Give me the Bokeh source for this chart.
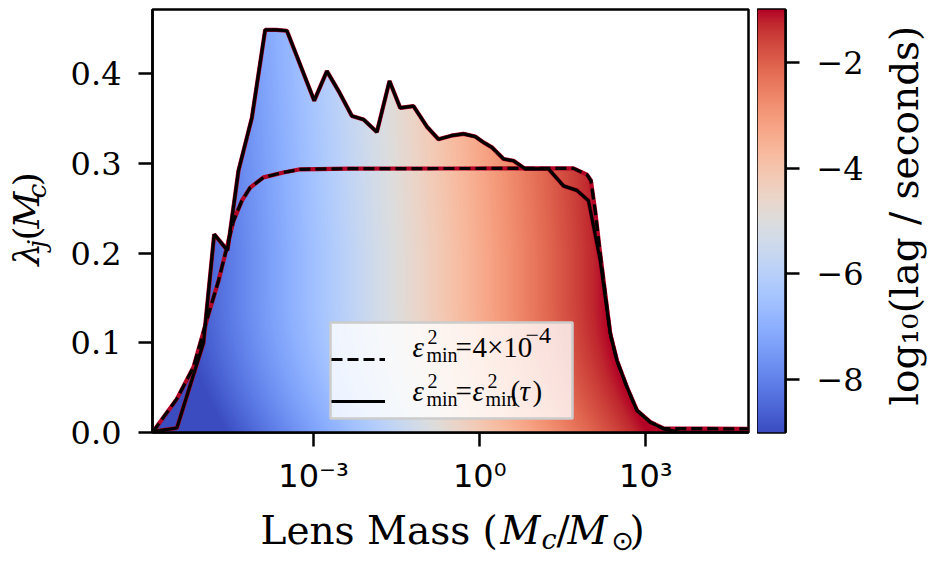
import numpy as np
from bokeh.plotting import figure
from bokeh.models import (Range1d, FixedTicker, LinearColorMapper, Label, Legend, LegendItem,
                          NumeralTickFormatter, CustomJSTickFormatter, BoxAnnotation)
from bokeh.layouts import row, column
from bokeh.core.properties import value
from bokeh.embed import file_html
from bokeh.resources import INLINE

# ---------------- data ----------------
# solid curve: eps^2_min = eps^2_min(tau); x = log10(M_c / M_sun)
mass_solid_log = [-5.906, -5.466, -4.986, -4.792, -4.552, -4.354, -4.112, -3.872, -3.673, -3.480,
                  -2.987, -2.758, -2.549, -2.307, -2.097, -1.856, -1.628, -1.435, -1.195, -0.953,
                  -0.744, -0.514, -0.292, -0.081, 0.069, 0.220, 0.430, 0.610, 0.821, 1.242,
                  1.513, 1.755, 1.964, 2.175, 2.356, 2.477, 2.657, 2.838, 3.078, 3.318,
                  3.600, 4.852]
lam_solid = [0.001, 0.005, 0.100, 0.221, 0.203, 0.292, 0.351, 0.449, 0.449, 0.448,
             0.370, 0.403, 0.381, 0.353, 0.349, 0.335, 0.392, 0.362, 0.364, 0.341,
             0.327, 0.331, 0.333, 0.330, 0.3235, 0.318, 0.305, 0.303, 0.294, 0.294,
             0.275, 0.270, 0.2585, 0.192, 0.110, 0.080, 0.0505, 0.0245, 0.0115, 0.004,
             0.0005, 0.0]
# dashed curve: eps^2_min = 4e-4
mass_dashed_log = [-5.906, -5.466, -5.166, -4.895, -4.715, -4.594, -4.444, -4.292, -4.143, -3.903,
                   -3.542, -3.240, -2.338, -0.532, 1.693, 1.935, 2.007, 2.085, 2.162, 2.356,
                   2.477, 2.657, 2.838, 3.078, 3.318, 4.852]
lam_dashed = [0.000, 0.0375, 0.073, 0.132, 0.169, 0.199, 0.236, 0.2585, 0.273, 0.2845,
              0.290, 0.2935, 0.2942, 0.2944, 0.2945, 0.2875, 0.281, 0.247, 0.206, 0.110,
              0.080, 0.0505, 0.0245, 0.0115, 0.0045, 0.004]

x_ticks = [1e-3, 1.0, 1e3]
x_tick_labels = ["10\u207b\u00b3", "10\u2070", "10\u00b3"]
y_ticks = [0.0, 0.1, 0.2, 0.3, 0.4]
cb_ticks = [-8, -6, -4, -2]
cb_tick_labels = ["\u22128", "\u22126", "\u22124", "\u22122"]
lag_low, lag_high = -9.0, -1.0
x_lim_log = (-5.906, 4.852)
y_lim = (0.0, 0.4717)

# ---------------- coolwarm palette ----------------
_cw = np.array([
    (0.2298057, 0.298717966, 0.753683153), (0.26623388, 0.353094838, 0.801466763),
    (0.30386891, 0.406535296, 0.84495867), (0.342804478, 0.458757618, 0.883725899),
    (0.38301334, 0.50941904, 0.917387822), (0.424369608, 0.558148092, 0.945619588),
    (0.46666708, 0.604562568, 0.968154911), (0.509635204, 0.648280772, 0.98478814),
    (0.552953156, 0.688929332, 0.995375608), (0.596262162, 0.726149107, 0.999836203),
    (0.639176211, 0.759599947, 0.998151185), (0.681291281, 0.788964712, 0.990363227),
    (0.722193294, 0.813952739, 0.976574709), (0.761464949, 0.834302879, 0.956945269),
    (0.798691636, 0.849786142, 0.931688648), (0.833466556, 0.860207984, 0.901068838),
    (0.865395197, 0.86541021, 0.865395561), (0.897787179, 0.848937047, 0.820880546),
    (0.924127593, 0.827384882, 0.774508472), (0.944468518, 0.800927443, 0.726736146),
    (0.958852946, 0.769767752, 0.678007945), (0.96732803, 0.734132809, 0.628751763),
    (0.969954137, 0.694266682, 0.579375448), (0.966811177, 0.650421156, 0.530263762),
    (0.958003065, 0.602842431, 0.481775914), (0.943660866, 0.551750968, 0.434243684),
    (0.923944917, 0.49730856, 0.387970225), (0.89904617, 0.439559467, 0.343229596),
    (0.869186849, 0.378313092, 0.300267182), (0.834620542, 0.312874446, 0.259301199),
    (0.795631745, 0.24128379, 0.220525627), (0.752534934, 0.157246067, 0.184115123),
    (0.705673158, 0.01555616, 0.150232812)])
_s = np.linspace(0, 1, len(_cw))
palette = []
for t in np.linspace(0, 1, 256):
    r, g, b = (np.interp(t, _s, _cw[:, k]) for k in range(3))
    palette.append("#%02x%02x%02x" % (int(round(r * 255)), int(round(g * 255)), int(round(b * 255))))

mapper = LinearColorMapper(palette=palette, low=lag_low, high=lag_high, nan_color=(0, 0, 0, 0))

SERIF = "DejaVu Serif"
SANS = "DejaVu Sans"
LEG = "Liberation Serif"
BASE_SHIFT = 0.33   # anchor offset (in em) so that the alphabetic baseline lands where wanted

TOP, FH, BOT = 9, 423, 68          # main row: top border, frame height, bottom border
ROW_H = TOP + FH + BOT             # 500
FW = 596
FX0, FY0 = 152.0, float(TOP + FH)  # main frame bottom-left on the page


class Strip:
    """A bare figure covering page x [x0, x0+w], y [y0, y0+h]; texts placed in page pixels."""

    def __init__(self, x0, y0, w, h):
        self.x0, self.y0, self.w, self.h = x0, y0, w, h
        f = figure(width=w, height=h, x_range=Range1d(0, w), y_range=Range1d(0, h),
                   x_axis_location=None, y_axis_location=None, output_backend="svg",
                   toolbar_location=None, min_border=0)
        f.min_border_left = f.min_border_right = f.min_border_top = f.min_border_bottom = 0
        f.grid.visible = False
        f.outline_line_color = None
        f.background_fill_color = "white"
        f.border_fill_color = "white"
        self.fig = f

    def text(self, s, px, py, size, style="normal", font=SERIF, rotated=False, along=0.0):
        x = px - self.x0
        y = (self.y0 + self.h) - py
        if rotated:
            x -= BASE_SHIFT * size
            y -= along          # rotated run is drawn shifted along its direction
        else:
            y += BASE_SHIFT * size
        self.fig.text(x=[x], y=[y], text=[s], text_font=value(font),
                      text_font_size=value("%dpx" % size), text_font_style=value(style),
                      text_color="black", angle=(np.pi / 2 if rotated else 0.0),
                      text_align=value("left"), text_baseline=value("alphabetic"))


def lab(s, px, py, size, style="normal", font=LEG):
    py = py - BASE_SHIFT * size
    p.add_layout(Label(x=px - FX0, y=FY0 - py, x_units="screen", y_units="screen", text=s,
                       text_font=font, text_font_size="%dpx" % size, text_font_style=style,
                       text_color="black", text_align="left", text_baseline="alphabetic",
                       level="overlay"))


# ---------------- main figure ----------------
p = figure(width=92 + FW + 9, height=ROW_H, frame_width=FW, frame_height=FH,
           x_axis_type="log",
           x_range=Range1d(10 ** x_lim_log[0], 10 ** x_lim_log[1]),
           y_range=Range1d(*y_lim),
           output_backend="svg", toolbar_location=None)
p.min_border_left = 92
p.min_border_right = 9
p.min_border_top = TOP
p.min_border_bottom = BOT
p.grid.visible = False
p.background_fill_color = "white"
p.border_fill_color = "white"
p.outline_line_color = "black"
p.outline_line_width = 2.5

# gradient fill under the upper envelope of both curves (colour = log10 lag)
nx, ny = FW, FH
lx = x_lim_log[0] + (np.arange(nx) + 0.5) * (x_lim_log[1] - x_lim_log[0]) / nx
ly = y_lim[0] + (np.arange(ny) + 0.5) * (y_lim[1] - y_lim[0]) / ny
env = np.maximum(np.interp(lx, mass_solid_log, lam_solid), np.interp(lx, mass_dashed_log, lam_dashed))
LX, LY = np.meshgrid(lx, ly)
lag = -3.4 + 1.05 * LX - 0.8 * np.clip(1 - LY / 0.15, 0, 1) ** 2 + 1.0 * np.clip(LY - 0.2, 0, None)
lag[LY > env[None, :]] = np.nan
p.image(image=[lag.astype(np.float32)], x=10 ** x_lim_log[0], y=y_lim[0],
        dw=10 ** x_lim_log[1] - 10 ** x_lim_log[0], dh=y_lim[1] - y_lim[0], color_mapper=mapper)

xs_solid = [10 ** v for v in mass_solid_log]
xs_dashed = [10 ** v for v in mass_dashed_log]
p.line(xs_dashed, lam_dashed, line_color="#b40426", line_width=4.2)
p.line(xs_solid, lam_solid, line_color="#b40426", line_width=4.2)
r_d = p.line(xs_dashed, lam_dashed, line_color="black", line_width=3.2, line_dash="11 5")
r_s = p.line(xs_solid, lam_solid, line_color="black", line_width=3.2)

p.xaxis.ticker = FixedTicker(ticks=x_ticks, minor_ticks=[])
p.xaxis.formatter = CustomJSTickFormatter(args=dict(t=x_ticks, l=x_tick_labels), code="""
const i = t.findIndex(v => Math.abs(Math.log10(v) - Math.log10(tick)) < 1e-6);
return i >= 0 ? l[i] : "";
""")
p.yaxis.ticker = FixedTicker(ticks=y_ticks, minor_ticks=[])
p.yaxis.formatter = NumeralTickFormatter(format="0.0")
for ax in (p.xaxis, p.yaxis):
    ax.axis_line_width = 2.5
    ax.axis_line_color = "black"
    ax.major_tick_out = 14
    ax.major_tick_in = 0
    ax.major_tick_line_width = 2.5
    ax.minor_tick_out = 0
    ax.minor_tick_in = 0
    ax.major_label_text_color = "black"
p.xaxis.major_label_text_font = SANS
p.xaxis.major_label_text_font_size = "32px"
p.xaxis.major_label_standoff = 10
p.yaxis.major_label_text_font = SERIF
p.yaxis.major_label_text_font_size = "32px"
p.yaxis.major_label_standoff = 17

# legend: box, sample lines, texts
p.add_layout(BoxAnnotation(left=178, right=420, bottom=14, top=110,
                           left_units="screen", right_units="screen",
                           bottom_units="screen", top_units="screen",
                           fill_color="white", fill_alpha=0.8,
                           line_color="#cccccc", line_width=2.5, line_alpha=1.0))
legend = Legend(items=[LegendItem(label=" ", renderers=[r_d]),
                       LegendItem(label=" ", renderers=[r_s])],
                location=(179, 14), margin=0, padding=8, spacing=8,
                glyph_width=54, glyph_height=34, label_height=34, label_width=156,
                label_standoff=10, label_text_font_size="8px",
                border_line_color=None, background_fill_alpha=0.0)
p.add_layout(legend)

for base, sup, sub in ((356, 343, 361), (400, 387, 405)):
    lab("\u03b5", 412, base, 29, "italic")
    lab("2", 427, sup, 20)
    lab("min", 426, sub, 20)
    lab("=", 455, base, 29)
lab("4\u00d710", 472, 356, 29)
lab("\u22124", 525, 343, 24)
lab("\u03b5", 472, 400, 29, "italic")
lab("2", 487, 387, 20)
lab("min", 485, 405, 20)
lab("(", 510, 400, 29)
lab("\u03c4", 519, 400, 29, "italic")
lab(")", 532, 400, 29)

# ---------------- colour bar ----------------
cb = figure(width=28 + 90, height=ROW_H, frame_width=28, frame_height=FH,
            x_range=Range1d(0, 1), y_range=Range1d(lag_low, lag_high),
            x_axis_location=None, y_axis_location="right",
            output_backend="svg", toolbar_location=None)
cb.min_border_left = 0
cb.min_border_right = 90
cb.min_border_top = TOP
cb.min_border_bottom = BOT
cb.grid.visible = False
cb.outline_line_color = "black"
cb.outline_line_width = 2.5
cb.border_fill_color = "white"
grad = np.linspace(lag_low, lag_high, 256).reshape(256, 1)
cb.image(image=[grad], x=0, y=lag_low, dw=1, dh=lag_high - lag_low, color_mapper=mapper)
cb.yaxis.ticker = FixedTicker(ticks=cb_ticks, minor_ticks=[])
cb.yaxis.major_label_overrides = {t: l for t, l in zip(cb_ticks, cb_tick_labels)}
cb.yaxis.axis_line_width = 2.5
cb.yaxis.major_tick_out = 14
cb.yaxis.major_tick_in = 0
cb.yaxis.major_tick_line_width = 2.5
cb.yaxis.minor_tick_out = 0
cb.yaxis.minor_tick_in = 0
cb.yaxis.major_label_text_font = SERIF
cb.yaxis.major_label_text_font_size = "32px"
cb.yaxis.major_label_standoff = 17
cb.yaxis.major_label_text_color = "black"

# ---------------- label strips ----------------
ylab = Strip(0, 0, 60, ROW_H)
YS = 26
ylab.text("\u03bb", 38, 277, 36, "italic", rotated=True, along=YS)
ylab.text("j", 45, 256, 26, "italic", rotated=True, along=YS)
ylab.text("(", 38, 247, 36, rotated=True, along=YS)
ylab.text("M", 38, 233, 36, "italic", rotated=True, along=YS)
ylab.text("c", 45, 197, 26, "italic", rotated=True, along=YS)
ylab.text(")", 38, 183, 36, rotated=True, along=YS)

cblab = Strip(875, 0, 59, ROW_H)
cblab.text("log\u2081\u2080(lag / seconds)", 917, 419, 39, rotated=True, along=49)

xlab = Strip(0, ROW_H, 934, 64)
xlab.text("Lens Mass (", 260, 543, 39)
xlab.text("M", 500, 543, 39, "italic")
xlab.text("c", 541, 548, 27, "italic")
xlab.text("/", 556, 543, 39)
xlab.text("M", 567, 543, 39, "italic")
xlab.text("\u2299", 611, 549, 27, "normal", SANS)
xlab.text(")", 629, 543, 39)

layout = column(row(ylab.fig, p, cb, cblab.fig), xlab.fig)
open("out.html", "w").write(file_html(layout, INLINE))
